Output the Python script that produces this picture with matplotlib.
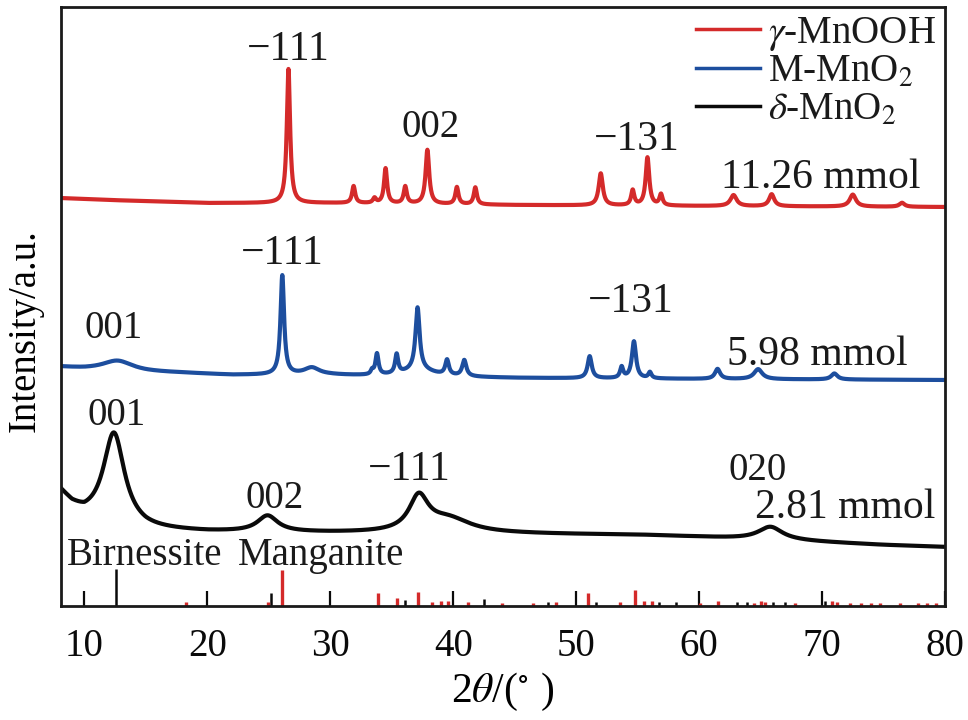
import numpy as np
import matplotlib
matplotlib.use("Agg")
import matplotlib.pyplot as plt

plt.rcParams['font.family'] = ['Liberation Serif', 'DejaVu Serif']
plt.rcParams['mathtext.fontset'] = 'stix'

# ---------------- data ----------------
two_theta_min, two_theta_max = 8.1, 80.0

# gamma-MnOOH (11.26 mmol): peak positions, heights, widths (FWHM)
red_pos = [26.6, 31.9, 33.6, 34.5, 36.1, 37.9, 40.3, 41.8, 52.0, 54.6, 55.8, 56.9, 62.8, 65.9, 72.5, 76.5]
red_hgt = [134, 17, 5, 35, 17, 54, 17, 17, 32, 15, 48, 11, 11, 12, 12, 4]
red_wid = [0.32, 0.3, 0.3, 0.3, 0.3, 0.35, 0.3, 0.3, 0.4, 0.3, 0.35, 0.3, 0.6, 0.5, 0.6, 0.5]
red_bg_x = [8, 12, 20, 30, 45, 60, 80]
red_bg_y = [8, 6, 3, 3, 1, 0, -1]

# M-MnO2 (5.98 mmol)
blue_pos = [12.7, 26.1, 28.5, 33.4, 33.8, 35.4, 37.2, 37.1, 39.5, 40.9, 51.1, 53.7, 54.7, 56.0, 61.5, 64.8, 71.0]
blue_hgt = [10, 99, 7, 4, 21, 19, 7, 62, 15, 16, 22, 11, 37, 6, 10, 10, 6]
blue_wid = [3.0, 0.35, 1.5, 0.25, 0.3, 0.3, 3.0, 0.4, 0.35, 0.4, 0.4, 0.3, 0.4, 0.3, 0.5, 0.8, 0.6]
blue_bg_x = [8, 10, 15, 18, 22, 25, 30, 33, 45, 60, 80]
blue_bg_y = [13, 11, 8, 7, 5, 5, 5, 4, 2, 1, 0]

# delta-MnO2 (2.81 mmol)
black_pos = [12.4, 24.9, 37.2, 39.6, 65.8]
black_hgt = [93, 16, 34, 14, 13]
black_wid = [2.1, 2.0, 1.9, 4.5, 2.4]
black_bg_x = [8, 9, 10, 12, 15, 20, 30, 45, 55, 60, 68, 75, 80]
black_bg_y = [55, 40, 30, 22, 17, 15, 14, 13, 12, 10, 6, 2, 0]

# reference patterns (stick heights)
birnessite_pos = [12.6, 25.2, 36.1, 42.5, 47.7, 51.6, 56.7, 58.1, 63.1, 63.9, 66.0, 67.0, 70.2]
birnessite_hgt = [37, 13, 6, 7, 4, 4, 4, 4, 4, 4, 4, 4, 5]
manganite_pos = [18.3, 24.9, 26.1, 33.9, 35.4, 37.1, 38.3, 39.0, 39.6, 41.2, 44.0, 46.5, 48.4,
                 51.0, 53.6, 54.8, 55.5, 56.2, 60.1, 61.5, 64.5, 65.0, 65.4, 67.8, 70.8,
                 71.2, 72.3, 73.2, 74.0, 74.7, 76.3, 77.8, 78.5, 79.3]
manganite_hgt = [4, 4, 36, 13, 8, 14, 4, 5, 5, 4, 3, 3, 4,
                 13, 4, 16, 5, 5, 3, 5, 3, 5, 4, 3, 5,
                 4, 3, 3, 3, 3, 3, 3, 3, 3]

series_names = [r'$\gamma$-MnOOH', r'M-MnO$_2$', r'$\delta$-MnO$_2$']
amounts = ['11.26 mmol', '5.98 mmol', '2.81 mmol']
x_ticks = [10, 20, 30, 40, 50, 60, 70, 80]

# ---------------- styling / layout ----------------
RED = '#d42a2a'
BLUE = '#1d4e9e'
BLACK = '#0a0a0a'
TXT = '#1a1a1a'
offsets = [400, 226, 59]      # vertical stacking of the three scans
FS = 28
FS_BIG = 30


def profile(x, pos, hgt, wid, bgx, bgy):
    y = np.interp(x, bgx, bgy)
    for p, h, w in zip(pos, hgt, wid):
        y = y + h / (1.0 + ((x - p) / (w / 2.0)) ** 2)
    return y


fig = plt.figure(figsize=(9.68, 7.2), dpi=100)
ax = fig.add_axes([61 / 968, 1 - 606 / 720, (945 - 61) / 968, (606 - 7) / 720])

x = np.arange(two_theta_min, two_theta_max + 0.001, 0.02)
curves = [
    (red_pos, red_hgt, red_wid, red_bg_x, red_bg_y, RED),
    (blue_pos, blue_hgt, blue_wid, blue_bg_x, blue_bg_y, BLUE),
    (black_pos, black_hgt, black_wid, black_bg_x, black_bg_y, BLACK),
]
handles = []
for (pos, hgt, wid, bx, by, col), off in zip(curves, offsets):
    y = profile(x, pos, hgt, wid, bx, by) + off
    ln, = ax.plot(x, y, color=col, lw=3.0, solid_joinstyle='round')
    handles.append(ln)

# reference sticks
ax.vlines(birnessite_pos, 0, birnessite_hgt, color=BLACK, lw=1.8)
ax.vlines(manganite_pos, 0, manganite_hgt, color=RED, lw=2.4)

ax.set_xlim(two_theta_min, two_theta_max)
ax.set_ylim(0, 599)
ax.set_xticks(x_ticks)
ax.set_xticklabels([str(t) for t in x_ticks])
ax.tick_params(axis='x', direction='in', length=11, width=1.6, pad=16,
               labelsize=FS, colors=BLACK)
ax.set_yticks([])
for s in ax.spines.values():
    s.set_linewidth(2.0)
    s.set_color(TXT)

ax.set_xlabel(r'2$\theta$/($^{\circ}$ )', fontsize=FS_BIG, labelpad=4)
ax.set_ylabel('Intensity/a.u.', fontsize=FS, va='center')
ax.yaxis.set_label_coords(-0.041, 0.459)

# annotations: (text, 2theta, height in axis units, size)
annotations = [
    ('\u2212111', 26.6, 546, FS_BIG), ('002', 38.2, 469, FS), ('\u2212131', 54.9, 456, FS_BIG),
    (amounts[0], 69.9, 418, FS_BIG),
    ('\u2212111', 26.1, 342, FS_BIG), ('001', 12.4, 268, FS), ('\u2212131', 54.4, 294, FS_BIG),
    (amounts[1], 69.6, 241, FS_BIG),
    ('001', 12.6, 181, FS), ('002', 25.5, 98, FS), ('\u2212111', 36.4, 126, FS_BIG),
    ('020', 64.8, 126, FS), (amounts[2], 71.9, 88, FS_BIG),
]
for t, xx, yy, fs in annotations:
    ax.text(xx, yy, t, ha='center', va='baseline', fontsize=fs, color=TXT)

ax.text(8.6, 41, 'Birnessite', ha='left', va='baseline', fontsize=FS, color=TXT)
ax.text(22.5, 41, 'Manganite', ha='left', va='baseline', fontsize=FS, color=TXT)

leg = ax.legend(handles, series_names, loc='upper right', bbox_to_anchor=(0.994, 0.993),
                frameon=False, fontsize=FS, handlelength=1.65, handletextpad=0.2,
                labelspacing=0.02, borderpad=0.05, borderaxespad=0.05)
for h in leg.get_lines():
    h.set_linewidth(2.5)
for t in leg.get_texts():
    t.set_color(TXT)

fig.savefig('out.png', dpi=100)
